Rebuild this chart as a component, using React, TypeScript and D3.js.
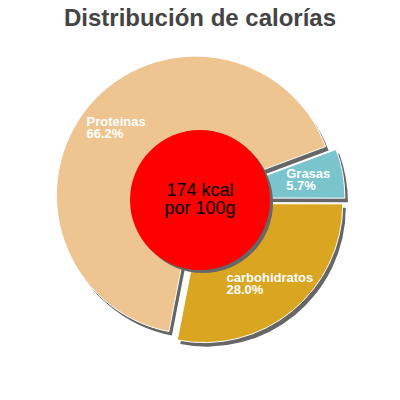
import React from "react";
import * as d3 from "d3";

const labels = ["Proteinas", "Grasas", "carbohidratos"];
const values = [66.2, 5.7, 28.0];
const colors = ["#EEC591", "#7AC5CD", "#DAA520"];
const centerLines = ["174 kcal", "por 100g"];
const title = "Distribución de calorías";

const W = 400;
const H = 400;
const cx = 200;
const cy = 199;
const radius = 139;
const holeR = 70;
const explode = 6;
const labelR = 104;
const startDeg = 191;
const font = "'Liberation Sans', Arial, Helvetica, sans-serif";

let ctx: CanvasRenderingContext2D | null = null;
const textWidth = (s: string, f: string) => {
    if (!ctx) ctx = document.createElement("canvas").getContext("2d");
    if (!ctx) return s.length * 7;
    ctx.font = f;
    return ctx.measureText(s).width;
};

export default function App() {
    const start = (startDeg * Math.PI) / 180;
    const pie = d3
        .pie<number>()
        .sort(null)
        .startAngle(start)
        .endAngle(start + 2 * Math.PI);
    const arcs = pie(values);
    const arc = d3.arc<d3.PieArcDatum<number>>().innerRadius(0).outerRadius(radius);
    const labelArc = d3.arc<d3.PieArcDatum<number>>().innerRadius(labelR).outerRadius(labelR);

    return (
        <svg width={W} height={H} style={{ position: "absolute", left: 0, top: 0 }} fontFamily={font}>
            <rect width={W} height={H} fill="white" />
            <text x={W / 2} y={26} textAnchor="middle" fontSize={24} fontWeight="bold" fill="#444">
                {title}
            </text>
            <g transform={`translate(${cx},${cy})`}>
                {arcs.map((a, i) => {
                    const mid = (a.startAngle + a.endAngle) / 2;
                    const dx = Math.sin(mid) * explode;
                    const dy = -Math.cos(mid) * explode;
                    return (
                        <g key={labels[i]} transform={`translate(${dx},${dy})`}>
                            <path d={arc(a) || ""} fill="#666" transform="translate(3,4)" />
                            <path d={arc(a) || ""} fill={colors[i]} stroke="white" strokeWidth={1} />
                        </g>
                    );
                })}
                {arcs.map((a, i) => {
                    const mid = (a.startAngle + a.endAngle) / 2;
                    const [lx, ly] = labelArc.centroid(a);
                    const x = lx + Math.sin(mid) * explode;
                    const y = ly - Math.cos(mid) * explode;
                    const pct = values[i].toFixed(1) + "%";
                    const f = `bold 13px ${font}`;
                    const w = Math.max(textWidth(labels[i], f), textWidth(pct, f));
                    return (
                        <text key={"l" + i} x={x - w / 2} y={y - 1.5} fontSize={13} fontWeight="bold" fill="white">
                            <tspan x={x - w / 2}>{labels[i]}</tspan>
                            <tspan x={x - w / 2} dy={11.5}>{pct}</tspan>
                        </text>
                    );
                })}
                <circle r={holeR} cx={3} cy={4} fill="#666" />
                <circle r={holeR} cx={0} cy={1} fill="#FF0000" />
                {centerLines.map((t, i) => (
                    <text key={t} x={0} y={-3 + i * 18} textAnchor="middle" fontSize={18} fill="black">
                        {t}
                    </text>
                ))}
            </g>
        </svg>
    );
}
